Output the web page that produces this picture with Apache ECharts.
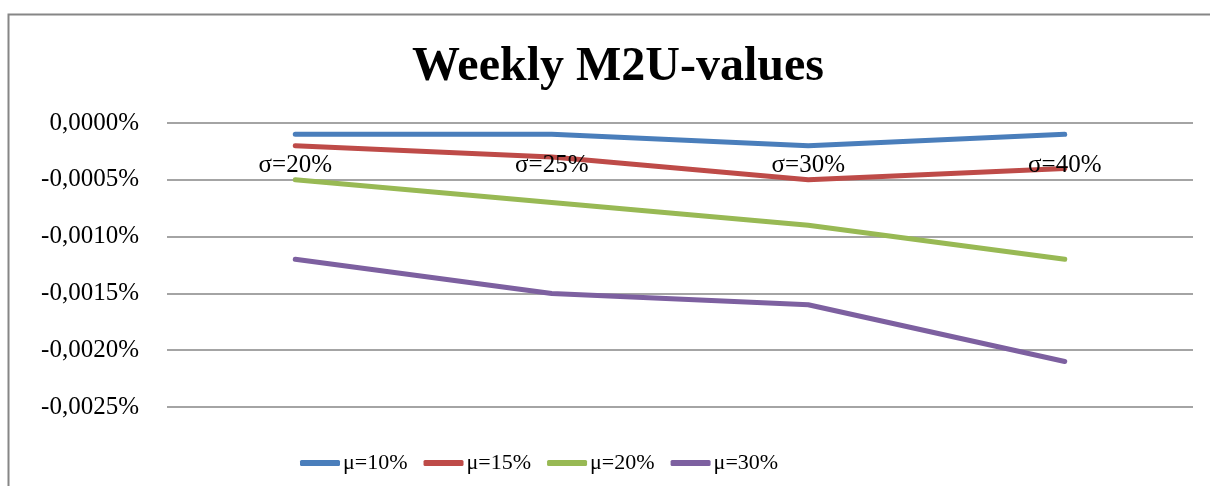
<!DOCTYPE html>
<html>
<head>
<meta charset="utf-8">
<script src="https://cdn.jsdelivr.net/npm/echarts@6/dist/echarts.min.js"></script>
<style>
	html, body { margin: 0; padding: 0; background: #fff; }
	#main { width: 1210px; height: 486px; }
</style>
</head>
<body>
<div id="main"></div>
<script>
// categories (sigma)
var categories = [ 'σ=20%', 'σ=25%', 'σ=30%', 'σ=40%' ];
// series names (mu)
var seriesNames = [ 'μ=10%', 'μ=15%', 'μ=20%', 'μ=30%' ];
// values in percent
var mu10 = [ -0.0001, -0.0001, -0.0002, -0.0001 ];
var mu15 = [ -0.0002, -0.0003, -0.0005, -0.0004 ];
var mu20 = [ -0.0005, -0.0007, -0.0009, -0.0012 ];
var mu30 = [ -0.0012, -0.0015, -0.0016, -0.0021 ];
var colors = [ '#4a7ebb', '#be4b48', '#98b954', '#7d60a0' ];

var font = '"Liberation Serif", "Times New Roman", serif';

function fmt(v) {
	var s = Math.abs(v).toFixed(4).replace('.', ',');
	return (v < 0 ? '-' : '') + s + '%';
}

var chart = echarts.init(document.getElementById('main'));
var allData = [ mu10, mu15, mu20, mu30 ];
var series = [];
for (var i = 0; i < seriesNames.length; i++) {
	series.push({
		name : seriesNames[i],
		type : 'line',
		data : allData[i],
		symbol : 'none',
		lineStyle : { width : 5, color : colors[i], cap : 'round' },
		itemStyle : { color : colors[i] },
		z : 1
	});
}

var option = {
	animation : false,
	backgroundColor : '#fff',
	title : {
		text : 'Weekly M2U-values',
		left : 613,
		top : 39,
		textAlign : 'center',
		textStyle : {
			fontFamily : font,
			fontSize : 48,
			fontWeight : 'bold',
			color : '#000'
		}
	},
	legend : {
		data : seriesNames,
		top : 447,
		left : 295,
		itemWidth : 40,
		itemHeight : 6,
		itemGap : 16,
		icon : 'roundRect',
		textStyle : { fontFamily : font, fontSize : 22, color : '#000', padding : [0, 0, 0, -2] }
	},
	grid : {
		left : 167,
		right : 17,
		top : 123,
		height : 284
	},
	xAxis : {
		type : 'category',
		position : 'top',
		data : categories,
		boundaryGap : true,
		axisLine : { show : false },
		axisTick : { show : false },
		axisLabel : {
			inside : true,
			margin : 30,
			fontFamily : font,
			fontSize : 25,
			color : '#000'
		},
		z : 5
	},
	yAxis : {
		type : 'value',
		min : -0.0025,
		max : 0,
		interval : 0.0005,
		axisLine : { show : false },
		axisTick : { show : false },
		axisLabel : {
			margin : 28,
			fontFamily : font,
			fontSize : 25,
			color : '#000',
			formatter : fmt
		},
		splitLine : { lineStyle : { color : '#868686', width : 1.5 } }
	},
	graphic : [ {
		type : 'rect',
		shape : { x : 8.5, y : 14.5, width : 1220, height : 500 },
		style : { fill : 'none', stroke : '#868686', lineWidth : 2 },
		silent : true
	} ],
	series : series
};
chart.setOption(option);
</script>
</body>
</html>
